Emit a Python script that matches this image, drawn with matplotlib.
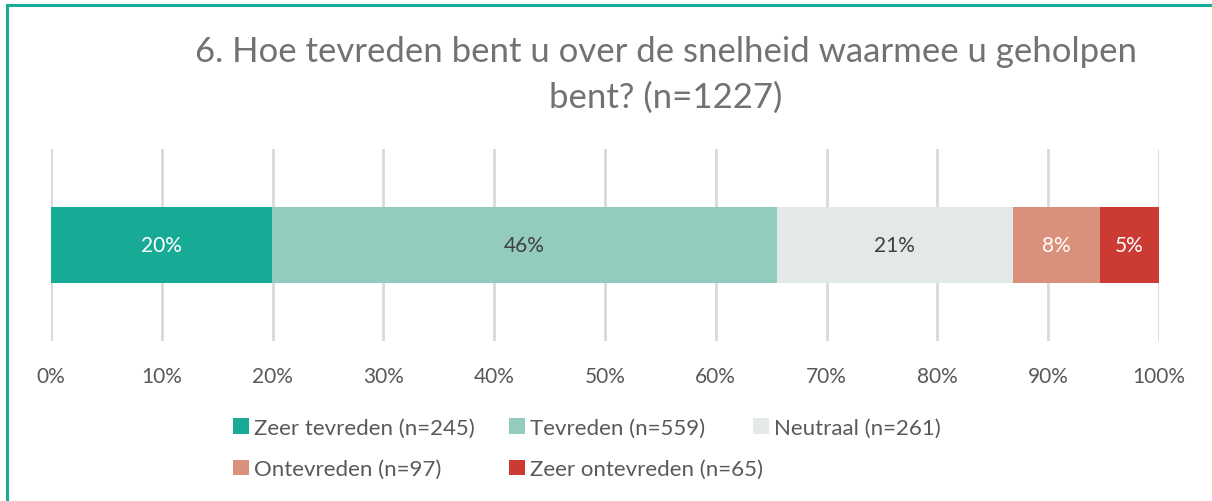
import matplotlib.pyplot as plt
from matplotlib.patches import Rectangle
import numpy as np

plt.rcParams['font.family'] = ['Lato', 'DejaVu Sans']

categories = ['Zeer tevreden', 'Tevreden', 'Neutraal', 'Ontevreden', 'Zeer ontevreden']
counts = [245, 559, 261, 97, 65]
total = 1227
colors = ['#17ab96', '#93cbbf', '#e3e8e8', '#d9917c', '#cb3b33']
label_colors = ['white', '#404040', '#404040', 'white', 'white']
ticks = [0, 10, 20, 30, 40, 50, 60, 70, 80, 90, 100]

shares = [100 * c / total for c in counts]

fig = plt.figure(figsize=(12.12, 5.02), dpi=100)
ax = fig.add_axes([51 / 1212, 160 / 502, 1108 / 1212, 192 / 502])

left = 0
handles = []
for cat, n, s, col, lc in zip(categories, counts, shares, colors, label_colors):
    b = ax.barh(0, s, left=left, height=0.4, color=col, zorder=3,
                label=f'{cat} (n={n})')
    ax.text(left + s / 2, 0, f'{round(s)}%', ha='center', va='center',
            fontsize=15, color=lc, zorder=4)
    handles.append(b)
    left += s

ax.set_xlim(0, 100)
ax.set_ylim(-0.5, 0.5)
ax.set_xticks(ticks)
ax.set_xticklabels([f'{t}%' for t in ticks], fontsize=15, color='#595959')
ax.set_yticks([])
ax.tick_params(axis='x', length=0, pad=18)
ax.grid(axis='x', color='#d9d9d9', linewidth=2, zorder=0)
for sp in ax.spines.values():
    sp.set_visible(False)

fig.text(666 / 1212, 1 - 75 / 502,
         '6. Hoe tevreden bent u over de snelheid waarmee u geholpen\nbent? (n=1227)',
         ha='center', va='center', fontsize=25, color='#757171', linespacing=1.5)

# legend laid out as three columns, rows filled left to right
columns = [[0, 3], [1, 4], [2]]
col_x = [233, 509, 753]
for idx, x in zip(columns, col_x):
    fig.legend([handles[i] for i in idx], [handles[i].get_label() for i in idx],
               loc='upper left', bbox_to_anchor=(x / 1212, 1 - 419 / 502),
               frameon=False, fontsize=16, labelcolor='#595959',
               handlelength=0.7, handleheight=0.7, handletextpad=0.25,
               labelspacing=0.95, borderaxespad=0, borderpad=0)

fig.patches.append(Rectangle((7 / 1212, -0.1), 1.2, 1 - 6 / 502 + 0.1,
                             transform=fig.transFigure, fill=False,
                             edgecolor='#1aab96', linewidth=2.2))

fig.savefig('out.png', dpi=100)
